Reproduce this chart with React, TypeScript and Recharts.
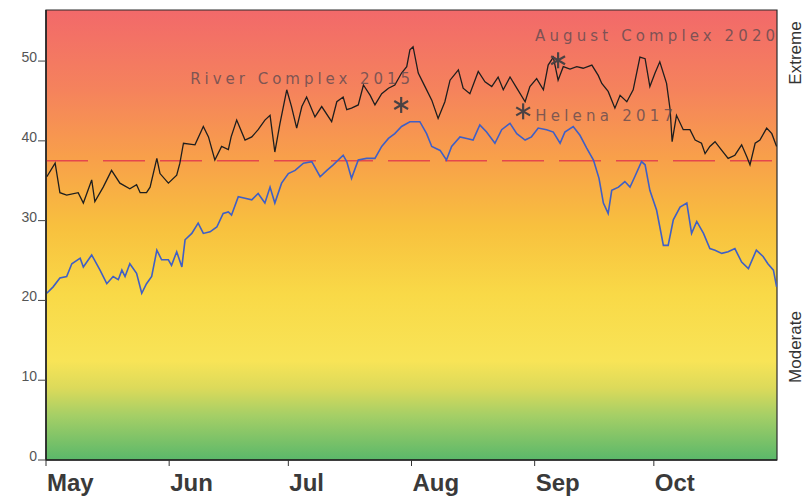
import { ComposedChart, Line, Scatter, XAxis, YAxis, ReferenceArea, ReferenceLine } from 'recharts'

const months = ['May', 'Jun', 'Jul', 'Aug', 'Sep', 'Oct']
const monthStarts = [0, 31, 61, 92, 123, 153]
const seasonEnd = 184
const yTicks = [0, 10, 20, 30, 40, 50]
const threshold = 37.5

// upper (black) line
const blackDays = [
  0.2, 2.3, 3.5, 5.2, 8.1, 9.4, 11.5, 12.3, 14.4, 16.5, 18.6, 21.1, 22.8, 23.7, 25.3, 26.2, 27.9, 28.7,
  30.8, 32.9, 33.7, 34.6, 37.5, 39.6, 40.9, 42.5, 44.2, 45.9, 46.6, 48.0, 50.1, 51.8, 53.4, 55.1, 56.4,
  57.6, 58.9, 60.6, 61.8, 63.1, 64.4, 65.6, 67.7, 69.4, 71.9, 73.2, 74.8, 75.7, 76.9, 78.6, 79.9, 81.6,
  82.8, 84.5, 86.2, 87.8, 89.5, 90.8, 91.6, 92.4, 93.7, 95.4, 97.1, 98.7, 100.4, 101.7, 103.8, 105.0,
  106.7, 108.8, 110.5, 112.2, 113.8, 115.1, 116.8, 118.5, 120.6, 121.8, 123.5, 125.2, 126.4, 127.7,
  128.9, 130.2, 131.9, 133.6, 135.2, 137.4, 139.0, 139.9, 141.5, 143.2, 144.5, 146.2, 147.8, 149.5,
  150.8, 152.0, 153.3, 154.5, 156.2, 157.1, 157.6, 158.7, 160.4, 162.1, 163.4, 165.0, 165.9, 167.1,
  168.4, 170.1, 171.7, 173.4, 175.1, 176.4, 177.2, 178.5, 179.7, 181.4, 182.7, 183.9,
]
const blackValues = [
  35.5, 37.2, 33.5, 33.2, 33.5, 32.2, 35.1, 32.4, 34.2, 36.3, 34.7, 34.0, 34.5, 33.5, 33.5, 34.2, 37.8, 35.9,
  34.7, 35.7, 37.2, 39.7, 39.5, 41.8, 40.5, 37.6, 39.3, 38.9, 40.5, 42.6, 40.1, 40.5, 41.4, 42.6, 43.2,
  38.6, 42.2, 46.4, 44.3, 41.6, 44.3, 45.5, 43.0, 44.3, 42.4, 44.9, 45.5, 43.9, 44.1, 44.5, 47.0, 45.7,
  44.5, 45.9, 46.6, 47.0, 48.5, 49.3, 51.4, 51.8, 48.5, 46.8, 45.1, 42.8, 44.9, 47.6, 48.9, 46.6,
  45.9, 48.7, 47.4, 46.8, 48.0, 46.4, 48.0, 46.6, 44.9, 46.8, 47.8, 46.4, 49.5, 50.5,
  47.6, 49.3, 49.0, 49.3, 49.1, 49.5, 48.2, 47.2, 46.2, 44.1, 45.7, 44.9, 46.4, 50.5,
  50.3, 46.8, 48.5, 49.9, 47.2, 43.9, 39.9, 43.2, 41.4, 41.4, 40.1, 39.7, 38.4, 39.3,
  39.9, 38.8, 37.8, 38.2, 39.5, 38.0, 37.0, 39.7, 40.1, 41.6, 40.9, 39.3,
]

// lower (blue) line
const blueDays = [
  0.2, 1.8, 3.5, 5.2, 6.5, 8.6, 9.4, 11.5, 13.6, 15.3, 16.9, 18.2, 19.1, 19.9, 21.1, 22.8, 24.1, 25.3,
  26.6, 27.9, 29.1, 30.8, 31.6, 32.9, 34.2, 35.0, 36.7, 38.3, 39.6, 41.3, 43.0, 44.6, 45.9, 46.7, 48.4,
  50.1, 51.8, 53.4, 55.1, 56.4, 57.6, 59.3, 61.0, 62.7, 64.8, 66.9, 69.0, 70.7, 72.3, 74.8, 75.7, 76.9,
  78.6, 80.7, 82.8, 84.5, 86.2, 87.8, 89.5, 91.6, 94.1, 95.8, 97.1, 99.2, 100.8, 102.1, 104.2, 105.9,
  107.5, 109.2, 110.9, 113.0, 114.7, 116.8, 118.5, 120.6, 122.2, 123.9, 126.0, 127.7, 129.4, 130.6,
  132.7, 134.4, 136.1, 137.8, 139.2, 140.3, 141.5, 142.4, 144.1, 145.7, 147.0, 148.2, 149.9, 150.8,
  152.0, 153.7, 155.4, 156.6, 157.9, 159.6, 161.3, 162.5, 163.8, 165.5, 167.1, 168.4, 170.1, 171.7,
  173.4, 175.1, 176.8, 178.8, 180.5, 181.7, 183.1, 183.9,
]
const blueValues = [
  20.9, 21.7, 22.8, 23.0, 24.6, 25.3, 24.2, 25.7, 23.8, 22.1, 23.0, 22.6, 23.8, 23.0, 24.6, 23.4, 20.9, 22.1,
  23.0, 26.3, 25.1, 25.1, 24.4, 26.1, 24.2, 27.6, 28.4, 29.7, 28.4, 28.6, 29.2, 30.9, 31.1, 30.7, 33.0,
  32.8, 32.6, 33.4, 32.2, 34.2, 32.2, 34.7, 35.9, 36.3, 37.2, 37.4, 35.5, 36.3, 37.0, 38.2, 37.4, 35.3,
  37.6, 37.8, 37.8, 39.3, 40.3, 40.9, 41.8, 42.4, 42.4, 40.9, 39.3, 38.8, 37.6, 39.3, 40.5, 40.3,
  40.1, 42.0, 41.1, 39.7, 41.4, 42.2, 40.9, 40.1, 40.5, 41.6, 41.4, 41.1, 39.7, 41.1,
  41.8, 40.7, 39.1, 37.6, 35.3, 32.2, 30.9, 33.8, 34.2, 34.9, 34.2, 35.5, 37.4, 37.0,
  33.8, 31.3, 26.9, 26.9, 30.1, 31.7, 32.2, 28.4, 29.9, 28.4, 26.5, 26.3, 25.9, 26.1,
  26.5, 24.8, 24.0, 26.3, 25.5, 24.6, 23.8, 21.7,
]

// marked fires
const fireNames = ['River Complex 2015', 'Helena 2017', 'August Complex 2020']
const fireDays = [89.4, 120.1, 128.9]
const fireValues = [44.5, 43.7, 50.1]

const blackData = blackDays.map((day, i) => ({ day, v: blackValues[i] }))
const blueData = blueDays.map((day, i) => ({ day, v: blueValues[i] }))
const fireData = fireNames.map((name, i) => ({ name, day: fireDays[i], v: fireValues[i] }))

const labelPlacement: Record<string, { dx: number; dy: number; anchor: 'start' | 'end'; len: number }> = {
  'River Complex 2015': { dx: 9, dy: -21, anchor: 'end', len: 220 },
  'Helena 2017': { dx: 12, dy: 10, anchor: 'start', len: 138 },
  'August Complex 2020': { dx: -23, dy: -19, anchor: 'start', len: 240 },
}

function FireMark(props: any) {
  const { cx, cy, payload } = props
  const p = labelPlacement[payload.name]
  const r = 8
  const arms = [90, 30, 150].map(a => {
    const rad = (a * Math.PI) / 180
    return (
      <line
        key={a}
        x1={cx - r * Math.cos(rad)}
        y1={cy - r * Math.sin(rad)}
        x2={cx + r * Math.cos(rad)}
        y2={cy + r * Math.sin(rad)}
        stroke="#4a4244"
        strokeWidth={2.2}
      />
    )
  })
  return (
    <g>
      {arms}
      <text
        x={cx + p.dx}
        y={cy + p.dy}
        textAnchor={p.anchor}
        textLength={p.len}
        lengthAdjust="spacing"
        fontFamily="'DejaVu Sans', sans-serif"
        fontSize={15}
        fill="#5e4a50"
        fillOpacity={0.8}
      >
        {payload.name}
      </text>
    </g>
  )
}

function MonthTick(props: any) {
  const { x, y, payload } = props
  const i = monthStarts.indexOf(payload.value)
  return (
    <text
      x={x + 1}
      y={y + 23}
      textAnchor="start"
      fontFamily="'Liberation Sans', Arial, sans-serif"
      fontWeight="bold"
      fontSize={24}
      fill="#3a3a3a"
    >
      {months[i]}
    </text>
  )
}

function ValueTick(props: any) {
  const { x, y, payload } = props
  return (
    <text
      x={x - 1}
      y={y + 1}
      textAnchor="end"
      fontFamily="'Liberation Sans', Arial, sans-serif"
      fontSize={14}
      fill="#555"
    >
      {payload.value}
    </text>
  )
}

export default function App() {
  return (
    <div style={{ position: 'absolute', left: 0, top: 0, width: 809, height: 498, background: '#fff' }}>
      <svg width={0} height={0} style={{ position: 'absolute' }}>
        <defs>
          <linearGradient id="dangerBg" x1="0" y1="0" x2="0" y2="1">
            <stop offset="0" stopColor="#f2696a" />
            <stop offset="0.18" stopColor="#f5835c" />
            <stop offset="0.33" stopColor="#f8a04a" />
            <stop offset="0.48" stopColor="#f8c03e" />
            <stop offset="0.63" stopColor="#f9d947" />
            <stop offset="0.78" stopColor="#f8e457" />
            <stop offset="0.84" stopColor="#dcda5a" />
            <stop offset="0.9" stopColor="#a6cf66" />
            <stop offset="1" stopColor="#5ab86a" />
          </linearGradient>
        </defs>
      </svg>
      <ComposedChart width={809} height={498} margin={{ top: 10, right: 32, bottom: 0, left: 0 }}>
        <XAxis
          dataKey="day"
          type="number"
          domain={[0, seasonEnd]}
          ticks={monthStarts}
          tick={<MonthTick />}
          height={38}
          allowDataOverflow
          axisLine={{ stroke: '#222', strokeWidth: 1.5 }}
          tickLine={{ stroke: '#333' }}
          tickSize={6}
        />
        <YAxis
          type="number"
          domain={[0, 56.4]}
          ticks={yTicks}
          tick={<ValueTick />}
          width={46}
          allowDataOverflow
          axisLine={{ stroke: '#222', strokeWidth: 1.5 }}
          tickLine={{ stroke: '#444' }}
          tickSize={8}
          tickMargin={0}
        />
        <ReferenceArea
          x1={0}
          x2={seasonEnd}
          y1={0}
          y2={56.4}
          fill="url(#dangerBg)"
          fillOpacity={1}
          stroke="#2a2a2a"
          strokeWidth={1.2}
        />
        <ReferenceLine y={threshold} stroke="#e4474c" strokeWidth={1.5} strokeDasharray="42 15" />
        <Line
          data={blueData}
          dataKey="v"
          type="linear"
          stroke="#3f5fc6"
          strokeWidth={1.6}
          dot={false}
          isAnimationActive={false}
        />
        <Line
          data={blackData}
          dataKey="v"
          type="linear"
          stroke="#1e1e1e"
          strokeWidth={1.3}
          dot={false}
          isAnimationActive={false}
        />
        <Scatter data={fireData} dataKey="v" shape={<FireMark />} isAnimationActive={false} />
      </ComposedChart>
      <svg width={809} height={498} style={{ position: 'absolute', left: 0, top: 0, pointerEvents: 'none' }}>
        <text
          transform="translate(801,53) rotate(-90)"
          textAnchor="middle"
          fontFamily="'Liberation Sans', Arial, sans-serif"
          fontSize={17}
          fill="#333"
        >
          Extreme
        </text>
        <text
          transform="translate(801,347) rotate(-90)"
          textAnchor="middle"
          fontFamily="'Liberation Sans', Arial, sans-serif"
          fontSize={17}
          fill="#333"
        >
          Moderate
        </text>
      </svg>
    </div>
  )
}
